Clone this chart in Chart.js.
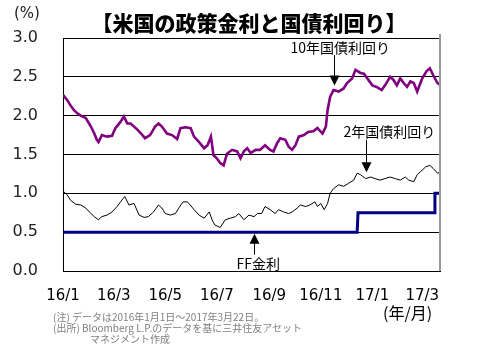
<!DOCTYPE html>
<html>
<head>
<meta charset="utf-8">
<script src="https://cdn.jsdelivr.net/npm/chart.js@4"></script>
<style>
    body { margin: 0; background: #fff; }
    #wrap { position: relative; width: 492px; height: 350px; font-family: "Noto Sans CJK JP", sans-serif; }
    #wrap canvas { position: absolute; left: 0; top: 0; }
    .txt { position: absolute; white-space: nowrap; line-height: 1; }
    #title { left: 0; width: 498px; top: 12px; text-align: center; font-size: 21px; font-weight: 900; color: #000; }
    #unit { left: 14px; top: 6px; font-size: 15px; font-family: "DejaVu Sans", sans-serif; color: #222; }
    #xunit { left: 383px; top: 304px; font-size: 16px; color: #000; }
    .note { font-size: 10px; color: #808080; }
</style>
</head>
<body>
<div id="wrap">
    <canvas id="rateChart" width="492" height="350"></canvas>
    <div class="txt" id="title">【米国の政策金利と国債利回り】</div>
    <div class="txt" id="unit">(%)</div>
    <div class="txt" id="xunit">(年/月)</div>
    <div class="txt note" style="left:53px; top:312px;">(注) データは2016年1月1日～2017年3月22日。</div>
    <div class="txt note" style="left:53px; top:323px;">(出所) Bloomberg L.P.のデータを基に三井住友アセット</div>
    <div class="txt note" style="left:90px; top:334px;">マネジメント作成</div>
</div>
<script>
// days counted from 2016/1/1
const tickDays = [0, 60, 121, 182, 244, 305, 366, 425];
const tickLabels = ['16/1', '16/3', '16/5', '16/7', '16/9', '16/11', '17/1', '17/3'];
const yTicks = [0, 0.5, 1.0, 1.5, 2.0, 2.5, 3.0];

// 10-year yield
const tenDays = [0, 5, 9, 13, 17, 21, 27, 33, 37, 40, 42, 46, 52, 58, 62, 68, 72, 76, 80, 88,
    94, 97, 103, 109, 113, 117, 123, 129, 135, 139, 145, 151, 155, 161, 167, 171, 175, 178, 182, 186,
    190, 194, 200, 206, 210, 214, 218, 222, 228, 233, 239, 245, 249, 253, 257, 263, 267, 271, 275, 279,
    285, 290, 296, 301, 307, 311, 313, 316, 320, 326, 332, 336, 342, 346, 352, 356, 360, 366, 371, 377,
    381, 387, 391, 395, 399, 403, 407, 411, 415, 419, 425, 430, 434, 438, 443, 446];
const tenYield = [2.27, 2.20, 2.13, 2.07, 2.03, 2.00, 1.97, 1.86, 1.77, 1.69, 1.66, 1.75, 1.73, 1.74, 1.84, 1.92, 1.99, 1.90, 1.90, 1.82,
    1.75, 1.71, 1.75, 1.86, 1.90, 1.86, 1.77, 1.75, 1.70, 1.84, 1.85, 1.84, 1.73, 1.66, 1.58, 1.62, 1.73, 1.49, 1.45, 1.39,
    1.36, 1.51, 1.56, 1.54, 1.45, 1.54, 1.58, 1.52, 1.56, 1.56, 1.62, 1.56, 1.54, 1.64, 1.71, 1.69, 1.60, 1.56, 1.62, 1.73,
    1.75, 1.79, 1.80, 1.84, 1.77, 1.86, 2.07, 2.24, 2.33, 2.31, 2.35, 2.42, 2.48, 2.59, 2.55, 2.54, 2.48, 2.39, 2.37, 2.33,
    2.39, 2.50, 2.46, 2.39, 2.48, 2.42, 2.37, 2.44, 2.42, 2.31, 2.48, 2.57, 2.61, 2.52, 2.42, 2.40];

// 2-year yield
const twoDays = [0, 5, 9, 15, 21, 27, 33, 37, 42, 46, 52, 58, 64, 68, 73, 78, 84, 90, 96, 101,
    107, 113, 117, 121, 127, 133, 137, 142, 147, 149, 155, 161, 167, 173, 177, 180, 186, 192, 198, 204,
    208, 214, 220, 226, 230, 235, 239, 245, 251, 255, 261, 267, 271, 277, 281, 287, 292, 298, 301, 305,
    309, 313, 316, 320, 326, 332, 338, 344, 348, 352, 358, 364, 369, 375, 381, 387, 393, 399, 405, 409,
    415, 419, 423, 429, 434, 438, 443, 446];
const twoYield = [1.03, 0.98, 0.91, 0.86, 0.85, 0.81, 0.74, 0.70, 0.66, 0.70, 0.72, 0.76, 0.83, 0.89, 0.96, 0.85, 0.87, 0.72, 0.69, 0.70,
    0.76, 0.85, 0.81, 0.74, 0.72, 0.74, 0.81, 0.89, 0.89, 0.87, 0.79, 0.72, 0.68, 0.76, 0.64, 0.59, 0.56, 0.66, 0.68, 0.70,
    0.74, 0.66, 0.72, 0.70, 0.74, 0.74, 0.83, 0.79, 0.74, 0.79, 0.76, 0.74, 0.76, 0.81, 0.85, 0.83, 0.85, 0.89, 0.83, 0.87,
    0.79, 0.87, 1.00, 1.06, 1.11, 1.09, 1.13, 1.17, 1.26, 1.24, 1.19, 1.21, 1.19, 1.17, 1.19, 1.21, 1.19, 1.17, 1.21, 1.17,
    1.15, 1.24, 1.28, 1.34, 1.36, 1.32, 1.26, 1.27];

// FF rate (upper bound)
const ffDays = [0, 348, 349, 439, 440, 446];
const ffRate = [0.50, 0.50, 0.75, 0.75, 1.00, 1.00];

// annotation labels and arrows: [text, textDay, textValue, arrowDay, fromValue, toValue]
const notes = [
    ['10年国債利回り', 328, 2.88, 321, 2.78, 2.39],
    ['2年国債利回り', 386, 1.80, 359, 1.69, 1.27],
    ['FF金利', 231, 0.09, 226, 0.21, 0.48]
];

function toPoints(xs, ys) {
    return xs.map((x, i) => ({ x: x, y: ys[i] }));
}

// arrows, labels and the right frame line
const annotatePlugin = {
    id: 'annotate',
    afterDatasetsDraw(chart) {
        const ctx = chart.ctx;
        const xs = chart.scales.x;
        const ys = chart.scales.y;
        const area = chart.chartArea;
        ctx.save();
        ctx.strokeStyle = '#999';
        ctx.lineWidth = 2;
        ctx.beginPath();
        ctx.moveTo(area.right, area.top - 4);
        ctx.lineTo(area.right, area.bottom);
        ctx.stroke();

        ctx.fillStyle = '#000';
        ctx.strokeStyle = '#000';
        ctx.lineWidth = 1;
        ctx.font = '14px "Noto Sans CJK JP"';
        ctx.textAlign = 'center';
        ctx.textBaseline = 'middle';
        notes.forEach(n => {
            ctx.fillText(n[0], xs.getPixelForValue(n[1]), ys.getPixelForValue(n[2]));
            const ax = Math.round(xs.getPixelForValue(n[3])) + 0.5;
            const y0 = ys.getPixelForValue(n[4]);
            const y1 = ys.getPixelForValue(n[5]);
            const dir = y1 > y0 ? 1 : -1;
            ctx.beginPath();
            ctx.moveTo(ax, y0);
            ctx.lineTo(ax, y1 - dir * 8);
            ctx.stroke();
            ctx.beginPath();
            ctx.moveTo(ax, y1);
            ctx.lineTo(ax - 5, y1 - dir * 10);
            ctx.lineTo(ax + 5, y1 - dir * 10);
            ctx.closePath();
            ctx.fill();
        });
        ctx.restore();
    }
};

const ctx = document.getElementById('rateChart').getContext('2d');
new Chart(ctx, {
    type: 'line',
    data: {
        datasets: [{
            label: '10年国債利回り',
            data: toPoints(tenDays, tenYield),
            borderColor: '#800080',
            borderWidth: 2.6,
            pointRadius: 0,
            tension: 0
        }, {
            label: '2年国債利回り',
            data: toPoints(twoDays, twoYield),
            borderColor: '#000',
            borderWidth: 1,
            pointRadius: 0,
            tension: 0
        }, {
            label: 'FF金利',
            data: toPoints(ffDays, ffRate),
            borderColor: '#000080',
            borderWidth: 3,
            pointRadius: 0,
            tension: 0
        }]
    },
    options: {
        responsive: false,
        animation: false,
        layout: { padding: { left: 0, top: 38, right: 52, bottom: 0 } },
        plugins: { legend: { display: false }, tooltip: { enabled: false } },
        scales: {
            x: {
                type: 'linear',
                min: 0,
                max: 446,
                afterBuildTicks: scale => { scale.ticks = tickDays.map(v => ({ value: v })); },
                afterFit: scale => { scale.height = 79; },
                grid: { display: false },
                border: { display: true, color: '#000', width: 1 },
                ticks: {
                    autoSkip: false,
                    maxRotation: 0,
                    padding: 8,
                    color: '#000',
                    font: { family: '"DejaVu Sans"', size: 15 },
                    callback: v => tickLabels[tickDays.indexOf(v)]
                }
            },
            y: {
                min: 0,
                max: 3,
                afterBuildTicks: scale => { scale.ticks = yTicks.map(v => ({ value: v })); },
                afterFit: scale => { scale.width = 63; },
                grid: { color: '#000', lineWidth: 1, drawTicks: false },
                border: { display: true, color: '#000', width: 1 },
                ticks: {
                    padding: 25,
                    color: '#222',
                    font: { family: '"DejaVu Sans"', size: 16 },
                    callback: v => v.toFixed(1)
                }
            }
        }
    },
    plugins: [annotatePlugin]
});
</script>
</body>
</html>
